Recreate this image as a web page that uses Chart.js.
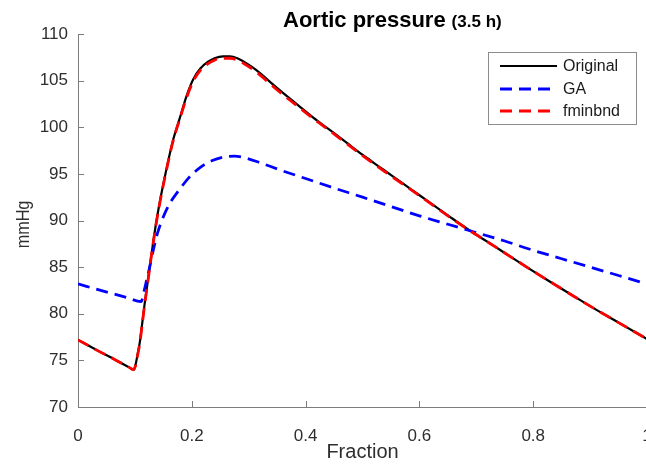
<!DOCTYPE html>
<html>
<head>
<meta charset="utf-8">
<script src="https://cdn.jsdelivr.net/npm/chart.js@4/dist/chart.umd.min.js"></script>
<style>
  html, body { margin: 0; padding: 0; overflow: hidden; background: #fff; width: 646px; height: 464px; }
  #wrap { position: relative; width: 660px; height: 464px; }
  canvas { display: block; }
</style>
</head>
<body>
<div id="wrap"><canvas id="c" width="660" height="464" style="width:660px;height:464px"></canvas></div>
<script>
// Aortic pressure over one cardiac cycle (fraction of period), 3.5 h
const seriesNames = ['Original', 'GA', 'fminbnd'];
const yAxisName = 'mmHg';

const originalX = [0.000, 0.033, 0.066, 0.090, 0.098, 0.101, 0.104, 0.109, 0.1135, 0.117, 0.122, 0.126, 0.132, 0.138, 0.146, 0.154, 0.167, 0.179, 0.191, 0.203, 0.215, 0.228, 0.240, 0.255, 0.267, 0.280, 0.295, 0.314, 0.335, 0.356, 0.385, 0.414, 0.443, 0.472, 0.500, 0.531, 0.554, 0.583, 0.613, 0.650, 0.689, 0.720, 0.748, 0.790, 0.824, 0.860, 0.906, 0.950, 1.000];
const originalY = [77.2, 76.1, 75.05, 74.25, 74.0, 74.5, 75.4, 77.1, 79.3, 81.0, 83.2, 85.0, 87.6, 90.0, 92.7, 95.1, 98.6, 101.0, 103.4, 105.2, 106.3, 107.0, 107.4, 107.6, 107.6, 107.4, 106.9, 106.1, 105.0, 103.9, 102.45, 101.0, 99.7, 98.35, 97.05, 95.7, 94.7, 93.45, 92.15, 90.55, 88.9, 87.7, 86.6, 84.95, 83.65, 82.3, 80.6, 79.05, 77.3];

const gaX = [0.000, 0.040, 0.085, 0.111, 0.116, 0.121, 0.126, 0.133, 0.140, 0.150, 0.162, 0.178, 0.195, 0.215, 0.235, 0.255, 0.275, 0.295, 0.320, 0.356, 0.400, 0.444, 0.500, 0.550, 0.600, 0.650, 0.689, 0.750, 0.800, 0.850, 0.900, 0.950, 1.000];
const gaY = [83.2, 82.5, 81.75, 81.3, 82.4, 83.7, 85.0, 87.0, 88.7, 90.4, 91.9, 93.3, 94.6, 95.7, 96.4, 96.8, 96.9, 96.7, 96.2, 95.4, 94.5, 93.6, 92.5, 91.5, 90.5, 89.6, 88.9, 87.8, 86.8, 85.9, 85.0, 84.1, 83.2];

const fminX = [0.000, 0.033, 0.066, 0.090, 0.098, 0.101, 0.104, 0.109, 0.1135, 0.117, 0.122, 0.126, 0.132, 0.138, 0.146, 0.154, 0.167, 0.179, 0.191, 0.203, 0.215, 0.228, 0.240, 0.255, 0.267, 0.280, 0.295, 0.314, 0.335, 0.356, 0.385, 0.414, 0.443, 0.472, 0.500, 0.531, 0.554, 0.583, 0.613, 0.650, 0.689, 0.720, 0.748, 0.790, 0.824, 0.860, 0.906, 0.950, 1.000];
const fminY = [77.2, 76.1, 75.05, 74.25, 74.0, 74.4, 75.3, 77.0, 79.2, 80.9, 83.1, 84.9, 87.5, 89.9, 92.6, 95.0, 98.5, 100.9, 103.2, 105.0, 106.1, 106.8, 107.2, 107.4, 107.4, 107.2, 106.7, 105.9, 104.8, 103.7, 102.3, 100.9, 99.6, 98.25, 96.95, 95.6, 94.6, 93.4, 92.1, 90.5, 88.9, 87.7, 86.6, 84.95, 83.65, 82.3, 80.6, 79.05, 77.3];

const xTickValues = [0, 0.2, 0.4, 0.6, 0.8, 1];
const xTickLabels = ['0', '0.2', '0.4', '0.6', '0.8', '1'];
const yTickValues = [70, 75, 80, 85, 90, 95, 100, 105, 110];
const yTickLabels = ['70', '75', '80', '85', '90', '95', '100', '105', '110'];

const toPoints = (xs, ys) => xs.map((x, i) => ({ x, y: ys[i] }));

const FONT = "'Liberation Sans', Arial, sans-serif";
const AXIS_GRAY = '#7c7c7c';
const TEXT_GRAY = '#2e2e2e';

// MATLAB-style tick marks pointing into the axes
const inwardTicks = {
  id: 'inwardTicks',
  afterDraw(chart) {
    const { ctx, chartArea, scales: { x, y } } = chart;
    ctx.save();
    ctx.strokeStyle = AXIS_GRAY;
    ctx.lineWidth = 1;
    ctx.beginPath();
    x.ticks.forEach(t => {
      const px = Math.round(x.getPixelForValue(t.value)) + 0.5;
      ctx.moveTo(px, chartArea.bottom);
      ctx.lineTo(px, chartArea.bottom - 6);
    });
    y.ticks.forEach(t => {
      const py = Math.round(y.getPixelForValue(t.value)) + 0.5;
      ctx.moveTo(chartArea.left, py);
      ctx.lineTo(chartArea.left + 6, py);
    });
    ctx.stroke();
    ctx.restore();
  }
};

// Slightly condensed vertical y-axis label, centred on the axis
const yAxisLabel = {
  id: 'yAxisLabel',
  afterDraw(chart) {
    const { ctx, chartArea } = chart;
    const cy = (chartArea.top + chartArea.bottom) / 2 + 4;
    ctx.save();
    ctx.translate(24, cy);
    ctx.rotate(-Math.PI / 2);
    ctx.scale(0.9, 1);
    ctx.fillStyle = TEXT_GRAY;
    ctx.font = `18px ${FONT}`;
    ctx.textAlign = 'center';
    ctx.textBaseline = 'middle';
    ctx.fillText(yAxisName, 0, 0);
    ctx.restore();
  }
};

// Title with a smaller parenthetical part
const titleText = {
  id: 'titleText',
  afterDraw(chart) {
    const { ctx } = chart;
    ctx.save();
    ctx.fillStyle = '#000';
    ctx.textBaseline = 'alphabetic';
    ctx.textAlign = 'left';
    ctx.font = `bold 22px ${FONT}`;
    const main = 'Aortic pressure';
    ctx.fillText(main, 283, 27);
    const w = ctx.measureText(main).width;
    ctx.font = `bold 17px ${FONT}`;
    ctx.fillText('(3.5 h)', 283 + w + 6, 27);
    ctx.restore();
  }
};

// Boxed legend in the upper right of the axes
const boxLegend = {
  id: 'boxLegend',
  afterDraw(chart) {
    const { ctx } = chart;
    const bx = 488, by = 52, bw = 148, bh = 72;
    ctx.save();
    ctx.fillStyle = '#fff';
    ctx.fillRect(bx, by, bw, bh);
    ctx.strokeStyle = '#8c8c8c';
    ctx.lineWidth = 1;
    ctx.strokeRect(bx + 0.5, by + 0.5, bw, bh);
    const rows = [66, 89, 111];
    chart.data.datasets.forEach((ds, i) => {
      const yy = rows[i];
      ctx.beginPath();
      ctx.strokeStyle = ds.borderColor;
      ctx.lineWidth = ds.borderWidth;
      ctx.setLineDash(ds.borderDash || []);
      ctx.moveTo(500, yy);
      ctx.lineTo(557, yy);
      ctx.stroke();
      ctx.setLineDash([]);
      ctx.fillStyle = '#1a1a1a';
      ctx.font = `16px ${FONT}`;
      ctx.textBaseline = 'middle';
      ctx.fillText(ds.label, 563, yy + 1);
    });
    ctx.restore();
  }
};

new Chart(document.getElementById('c'), {
  type: 'line',
  data: {
    datasets: [
      {
        label: seriesNames[0],
        data: toPoints(originalX, originalY),
        borderColor: '#000000',
        borderWidth: 2.2,
        pointRadius: 0,
        cubicInterpolationMode: 'monotone',
        order: 2
      },
      {
        label: seriesNames[1],
        data: toPoints(gaX, gaY),
        borderColor: '#0000ff',
        borderWidth: 2.8,
        borderDash: [12, 7],
        pointRadius: 0,
        cubicInterpolationMode: 'monotone',
        order: 1
      },
      {
        label: seriesNames[2],
        data: toPoints(fminX, fminY),
        borderColor: '#ff0000',
        borderWidth: 2.8,
        borderDash: [12, 7],
        pointRadius: 0,
        cubicInterpolationMode: 'monotone',
        order: 0
      }
    ]
  },
  options: {
    responsive: false,
    animation: false,
    layout: { padding: { left: 0, right: 13, top: 34, bottom: 0 } },
    plugins: {
      legend: { display: false },
      title: { display: false },
      tooltip: { enabled: false }
    },
    scales: {
      x: {
        type: 'linear',
        min: 0,
        max: 1,
        afterBuildTicks: s => { s.ticks = xTickValues.map(v => ({ value: v })); },
        afterFit: s => { s.height = 57; s.paddingLeft = 0; s.paddingRight = 0; },
        grid: { display: false, drawTicks: false },
        border: { display: true, color: AXIS_GRAY, width: 1 },
        ticks: {
          padding: 19,
          color: TEXT_GRAY,
          font: { family: FONT, size: 17 },
          maxRotation: 0,
          callback: v => xTickLabels[xTickValues.indexOf(v)]
        },
        title: {
          display: true,
          text: 'Fraction',
          color: TEXT_GRAY,
          font: { family: FONT, size: 20 },
          padding: { top: 0, bottom: 0 }
        }
      },
      y: {
        type: 'linear',
        min: 70,
        max: 110,
        afterBuildTicks: s => { s.ticks = yTickValues.map(v => ({ value: v })); },
        afterFit: s => { s.width = 78; },
        grid: { display: false, drawTicks: false },
        border: { display: true, color: AXIS_GRAY, width: 1 },
        ticks: {
          padding: 10,
          color: TEXT_GRAY,
          font: { family: FONT, size: 17 },
          callback: v => yTickLabels[yTickValues.indexOf(v)]
        },
        title: { display: false }
      }
    }
  },
  plugins: [inwardTicks, yAxisLabel, titleText, boxLegend]
});
</script>
</body>
</html>
